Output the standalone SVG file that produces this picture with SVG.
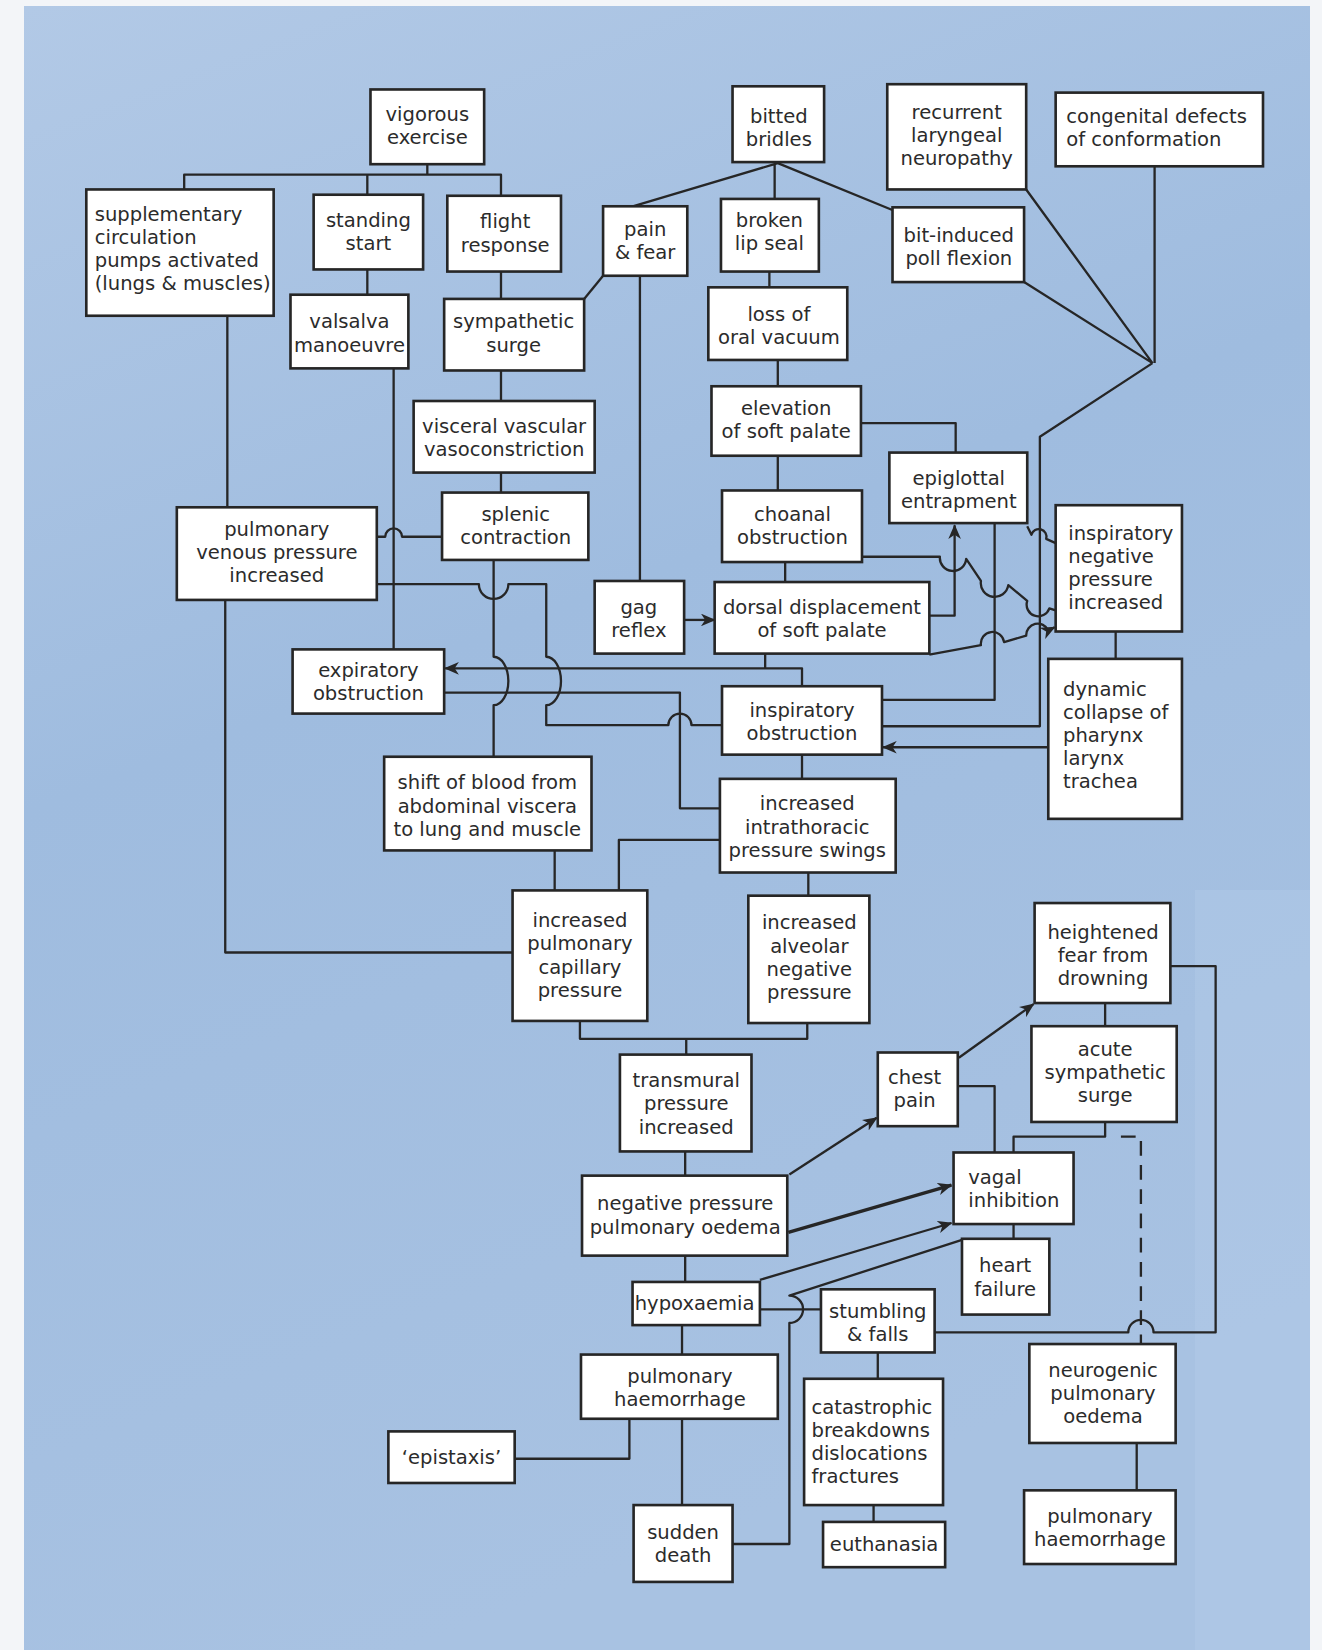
<svg xmlns="http://www.w3.org/2000/svg" width="1322" height="1650" viewBox="0 0 1322 1650">
<defs>
<linearGradient id="bg" x1="0" y1="0" x2="0.3" y2="1">
<stop offset="0" stop-color="#b2c9e6"/>
<stop offset="0.45" stop-color="#9fbcdf"/>
<stop offset="1" stop-color="#a8c2e2"/>
</linearGradient>
<marker id="ar" markerUnits="userSpaceOnUse" viewBox="0 0 14 12" markerWidth="14" markerHeight="12" refX="13" refY="6" orient="auto">
<path d="M0,0 L14,6 L0,12 L4,6 z" fill="#262626"/>
</marker>
<style>
.b{fill:#ffffff;stroke:#262626;stroke-width:2.5}
.t{font-family:"DejaVu Sans","Liberation Sans",sans-serif;font-size:18.6px;fill:#2b2b2b;text-anchor:middle}
.l{text-anchor:start}
.c{fill:none;stroke:#262626;stroke-width:2.2;stroke-linejoin:round}
.th{stroke-width:3.2}
.d{stroke-dasharray:14 9}
</style>
</defs>
<rect x="0" y="0" width="1322" height="1650" fill="#f3f5f8"/>
<rect x="24" y="6" width="1286" height="1644" fill="url(#bg)"/>
<rect x="1195" y="890" width="115" height="760" fill="#b8cfea" opacity="0.35"/>
<g transform="scale(1.0525)">
<g id="connectors">
<path class="c" d="M406,156 V166 M175,180 V166 H476 V186 M349,166 V185"/>
<path class="c" d="M349,256 V280"/>
<path class="c" d="M476,258 V284"/>
<path class="c" d="M476,352 V381"/>
<path class="c" d="M476,449 V468"/>
<path class="c" d="M573,262 L555,284"/>
<path class="c" d="M608,262 V552"/>
<path class="c" d="M739,155 L598,197 M736,155 V189 M739,155 L849,200"/>
<path class="c" d="M731,258 V273"/>
<path class="c" d="M739,342 V367"/>
<path class="c" d="M739,433 V466"/>
<path class="c" d="M818,402 H908 V430"/>
<path class="c" d="M746,534 V553"/>
<path class="c" d="M975,180 L1095,345 M973,268 L1095,345 M1097,158 V345 M1095,345 L988,415 V690 H838"/>
<path class="c" d="M945,497 V665 H838"/>
<path class="c" d="M819,529 H893 A12 12 0 0 0 918,531 L932,552 A13 13 0 0 0 958,556 L976,571 A11 11 0 0 0 997,578 L1003,580"/>
<path class="c" d="M976,500 L980,508 A7 7 0 0 1 994,512 L1003,516"/>
<path class="c" d="M883,622 L932,613 A11 11 0 0 1 954,610 L975,604 A11 11 0 0 1 996,599 L1002,596" marker-end="url(#ar)"/>
<path class="c" d="M883,585 H907 V499" marker-end="url(#ar)"/>
<path class="c" d="M650,589 H679" marker-end="url(#ar)"/>
<path class="c" d="M1060,600 V626"/>
<path class="c" d="M996,710 H839" marker-end="url(#ar)"/>
<path class="c" d="M762,717 V740"/>
<path class="c" d="M727,621 V635"/>
<path class="c" d="M762,652 V635 H423" marker-end="url(#ar)"/>
<path class="c" d="M422,658 H646 V768 H684"/>
<path class="c" d="M374,350 V617"/>
<path class="c" d="M357,510 H366 A8 8 0 0 1 382,510 H420"/>
<path class="c" d="M358,555 H455 A14 14 0 0 0 483,555 H519 V624 A14 23 0 0 1 519,670 V689 H635 A11 11 0 0 1 657,689 H686"/>
<path class="c" d="M469,532 V624 A14 23 0 0 1 469,670 V719"/>
<path class="c" d="M216,300 V482 M214,570 V905 H487"/>
<path class="c" d="M527,808 V846"/>
<path class="c" d="M684,798 H588 V846"/>
<path class="c" d="M768,829 V851"/>
<path class="c" d="M551,970 V987 H767 V972 M652,987 V1002"/>
<path class="c" d="M651,1094 V1117"/>
<path class="c" d="M750,1116 L833,1062" marker-end="url(#ar)"/>
<path class="c" d="M911,1005 L982,954" marker-end="url(#ar)"/>
<path class="c" d="M910,1032 H945 V1095"/>
<path class="c" d="M1050,953 V975"/>
<path class="c" d="M1050,1066 V1080 H963 V1095"/>
<path class="c d" d="M1065,1080 H1084 V1277"/>
<path class="c" d="M1112,918 H1155 V1266 H1096 A12 12 0 0 0 1072,1266 H888"/>
<path class="c th" d="M749,1171 L904,1126" marker-end="url(#ar)"/>
<path class="c" d="M722,1216 L904,1162" marker-end="url(#ar)"/>
<path class="c" d="M914,1178 L750,1231 A12 12 0 0 1 750,1257 V1467 H696"/>
<path class="c" d="M722,1244 H780"/>
<path class="c" d="M963,1163 V1177"/>
<path class="c" d="M651,1193 V1218"/>
<path class="c" d="M648,1259 V1287"/>
<path class="c" d="M648,1348 V1430"/>
<path class="c" d="M598,1348 V1386 H489"/>
<path class="c" d="M834,1285 V1310"/>
<path class="c" d="M830,1430 V1446"/>
<path class="c" d="M1080,1371 V1416"/>
</g>
<g id="n1"><rect class="b" x="352" y="85" width="108" height="71"/><text class="t" x="406" y="115">vigorous</text><text class="t" x="406" y="137">exercise</text></g>
<g id="n2"><rect class="b" x="696" y="82" width="87" height="72"/><text class="t" x="740" y="117">bitted</text><text class="t" x="740" y="139">bridles</text></g>
<g id="n3"><rect class="b" x="843" y="80" width="132" height="100"/><text class="t" x="909" y="113">recurrent</text><text class="t" x="909" y="135">laryngeal</text><text class="t" x="909" y="157">neuropathy</text></g>
<g id="n4"><rect class="b" x="1003" y="88" width="197" height="70"/><text class="t l" x="1013" y="117">congenital defects</text><text class="t l" x="1013" y="139">of conformation</text></g>
<g id="n5"><rect class="b" x="82" y="180" width="178" height="120"/><text class="t l" x="90" y="210">supplementary</text><text class="t l" x="90" y="232">circulation</text><text class="t l" x="90" y="254">pumps activated</text><text class="t l" x="90" y="276">(lungs &amp; muscles)</text></g>
<g id="n6"><rect class="b" x="298" y="185" width="104" height="71"/><text class="t" x="350" y="216">standing</text><text class="t" x="350" y="238">start</text></g>
<g id="n7"><rect class="b" x="425" y="186" width="108" height="72"/><text class="t" x="480" y="217">flight</text><text class="t" x="480" y="239">response</text></g>
<g id="n8"><rect class="b" x="573" y="196" width="80" height="66"/><text class="t" x="613" y="224">pain</text><text class="t" x="613" y="246">&amp; fear</text></g>
<g id="n9"><rect class="b" x="685" y="189" width="93" height="69"/><text class="t" x="731" y="216">broken</text><text class="t" x="731" y="238">lip seal</text></g>
<g id="n10"><rect class="b" x="848" y="197" width="125" height="71"/><text class="t" x="911" y="230">bit-induced</text><text class="t" x="911" y="252">poll flexion</text></g>
<g id="n11"><rect class="b" x="276" y="280" width="112" height="70"/><text class="t" x="332" y="312">valsalva</text><text class="t" x="332" y="334">manoeuvre</text></g>
<g id="n12"><rect class="b" x="422" y="284" width="133" height="68"/><text class="t" x="488" y="312">sympathetic</text><text class="t" x="488" y="334">surge</text></g>
<g id="n13"><rect class="b" x="673" y="273" width="132" height="69"/><text class="t" x="740" y="305">loss of</text><text class="t" x="740" y="327">oral vacuum</text></g>
<g id="n14"><rect class="b" x="676" y="367" width="142" height="66"/><text class="t" x="747" y="394">elevation</text><text class="t" x="747" y="416">of soft palate</text></g>
<g id="n15"><rect class="b" x="393" y="381" width="172" height="68"/><text class="t" x="479" y="411">visceral vascular</text><text class="t" x="479" y="433">vasoconstriction</text></g>
<g id="n16"><rect class="b" x="845" y="430" width="131" height="67"/><text class="t" x="911" y="461">epiglottal</text><text class="t" x="911" y="483">entrapment</text></g>
<g id="n17"><rect class="b" x="168" y="482" width="190" height="88"/><text class="t" x="263" y="509">pulmonary</text><text class="t" x="263" y="531">venous pressure</text><text class="t" x="263" y="553">increased</text></g>
<g id="n18"><rect class="b" x="420" y="468" width="139" height="64"/><text class="t" x="490" y="495">splenic</text><text class="t" x="490" y="517">contraction</text></g>
<g id="n19"><rect class="b" x="686" y="466" width="133" height="68"/><text class="t" x="753" y="495">choanal</text><text class="t" x="753" y="517">obstruction</text></g>
<g id="n20"><rect class="b" x="1003" y="480" width="120" height="120"/><text class="t l" x="1015" y="513">inspiratory</text><text class="t l" x="1015" y="535">negative</text><text class="t l" x="1015" y="557">pressure</text><text class="t l" x="1015" y="579">increased</text></g>
<g id="n21"><rect class="b" x="565" y="552" width="85" height="69"/><text class="t" x="607" y="583">gag</text><text class="t" x="607" y="605">reflex</text></g>
<g id="n22"><rect class="b" x="679" y="553" width="204" height="68"/><text class="t" x="781" y="583">dorsal displacement</text><text class="t" x="781" y="605">of soft palate</text></g>
<g id="n23"><rect class="b" x="278" y="617" width="144" height="61"/><text class="t" x="350" y="643">expiratory</text><text class="t" x="350" y="665">obstruction</text></g>
<g id="n24"><rect class="b" x="686" y="652" width="152" height="65"/><text class="t" x="762" y="681">inspiratory</text><text class="t" x="762" y="703">obstruction</text></g>
<g id="n25"><rect class="b" x="996" y="626" width="127" height="152"/><text class="t l" x="1010" y="661">dynamic</text><text class="t l" x="1010" y="683">collapse of</text><text class="t l" x="1010" y="705">pharynx</text><text class="t l" x="1010" y="727">larynx</text><text class="t l" x="1010" y="749">trachea</text></g>
<g id="n26"><rect class="b" x="365" y="719" width="197" height="89"/><text class="t" x="463" y="750">shift of blood from</text><text class="t" x="463" y="772">abdominal viscera</text><text class="t" x="463" y="794">to lung and muscle</text></g>
<g id="n27"><rect class="b" x="684" y="740" width="167" height="89"/><text class="t" x="767" y="770">increased</text><text class="t" x="767" y="792">intrathoracic</text><text class="t" x="767" y="814">pressure swings</text></g>
<g id="n28"><rect class="b" x="487" y="846" width="128" height="124"/><text class="t" x="551" y="881">increased</text><text class="t" x="551" y="903">pulmonary</text><text class="t" x="551" y="925">capillary</text><text class="t" x="551" y="947">pressure</text></g>
<g id="n29"><rect class="b" x="711" y="851" width="115" height="121"/><text class="t" x="769" y="883">increased</text><text class="t" x="769" y="905">alveolar</text><text class="t" x="769" y="927">negative</text><text class="t" x="769" y="949">pressure</text></g>
<g id="n30"><rect class="b" x="983" y="858" width="129" height="95"/><text class="t" x="1048" y="892">heightened</text><text class="t" x="1048" y="914">fear from</text><text class="t" x="1048" y="936">drowning</text></g>
<g id="n31"><rect class="b" x="589" y="1002" width="125" height="92"/><text class="t" x="652" y="1033">transmural</text><text class="t" x="652" y="1055">pressure</text><text class="t" x="652" y="1077">increased</text></g>
<g id="n32"><rect class="b" x="834" y="1000" width="76" height="70"/><text class="t" x="869" y="1030">chest</text><text class="t" x="869" y="1052">pain</text></g>
<g id="n33"><rect class="b" x="980" y="975" width="138" height="91"/><text class="t" x="1050" y="1003">acute</text><text class="t" x="1050" y="1025">sympathetic</text><text class="t" x="1050" y="1047">surge</text></g>
<g id="n34"><rect class="b" x="906" y="1095" width="114" height="68"/><text class="t l" x="920" y="1125">vagal</text><text class="t l" x="920" y="1147">inhibition</text></g>
<g id="n35"><rect class="b" x="553" y="1117" width="195" height="76"/><text class="t" x="651" y="1150">negative pressure</text><text class="t" x="651" y="1172">pulmonary oedema</text></g>
<g id="n36"><rect class="b" x="914" y="1177" width="83" height="72"/><text class="t" x="955" y="1209">heart</text><text class="t" x="955" y="1231">failure</text></g>
<g id="n37"><rect class="b" x="601" y="1218" width="121" height="41"/><text class="t l" x="603" y="1245">hypoxaemia</text></g>
<g id="n38"><rect class="b" x="780" y="1225" width="108" height="60"/><text class="t" x="834" y="1252">stumbling</text><text class="t" x="834" y="1274">&amp; falls</text></g>
<g id="n39"><rect class="b" x="978" y="1277" width="139" height="94"/><text class="t" x="1048" y="1308">neurogenic</text><text class="t" x="1048" y="1330">pulmonary</text><text class="t" x="1048" y="1352">oedema</text></g>
<g id="n40"><rect class="b" x="552" y="1287" width="187" height="61"/><text class="t" x="646" y="1314">pulmonary</text><text class="t" x="646" y="1336">haemorrhage</text></g>
<g id="n41"><rect class="b" x="764" y="1310" width="132" height="120"/><text class="t l" x="771" y="1343">catastrophic</text><text class="t l" x="771" y="1365">breakdowns</text><text class="t l" x="771" y="1387">dislocations</text><text class="t l" x="771" y="1409">fractures</text></g>
<g id="n42"><rect class="b" x="369" y="1360" width="120" height="49"/><text class="t" x="429" y="1391">‘epistaxis’</text></g>
<g id="n43"><rect class="b" x="602" y="1430" width="94" height="73"/><text class="t" x="649" y="1462">sudden</text><text class="t" x="649" y="1484">death</text></g>
<g id="n44"><rect class="b" x="782" y="1446" width="116" height="43"/><text class="t" x="840" y="1474">euthanasia</text></g>
<g id="n45"><rect class="b" x="973" y="1416" width="144" height="70"/><text class="t" x="1045" y="1447">pulmonary</text><text class="t" x="1045" y="1469">haemorrhage</text></g>
</g>
</svg>
